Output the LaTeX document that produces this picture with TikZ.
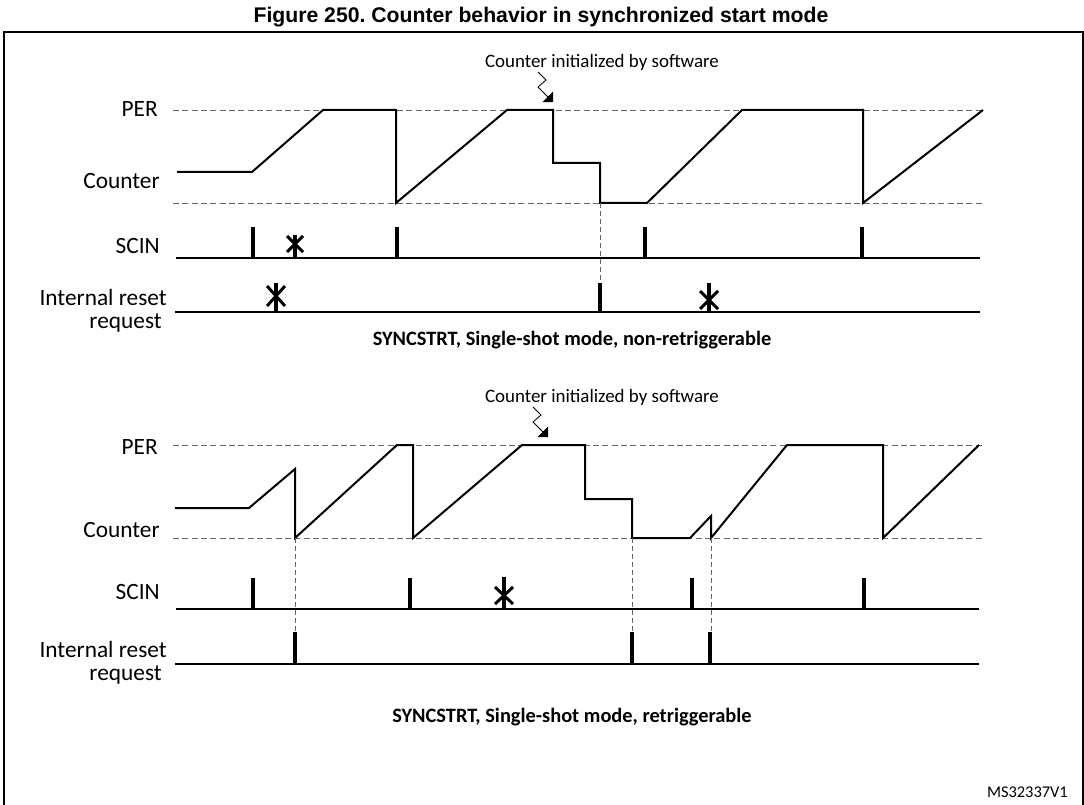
\documentclass[tikz,border=0pt]{standalone}
\usepackage{fontspec}
\setmainfont{Carlito}
\newfontfamily\titlefont{Liberation Sans}
\usetikzlibrary{arrows.meta}
\frenchspacing
\begin{document}
\begin{tikzpicture}[x=0.75pt,y=-0.75pt,
  wave/.style={line width=1.5pt, line join=miter},
  guide/.style={draw=black!60, dash pattern=on 4.5pt off 2.5pt, line width=0.7pt},
  vguide/.style={draw=black!60, dash pattern=on 4pt off 2pt, line width=0.6pt},
  baseln/.style={line width=1.5pt},
  pulse/.style={line width=2.4pt},
  xarm/.style={line width=2.2pt},
  zig/.style={line width=0.6pt, -{Triangle[length=5.5pt,width=11pt]}},
  lbl/.style={font=\fontsize{17.5}{20}\selectfont, anchor=east, inner sep=0pt},
  ann/.style={font=\fontsize{14.2}{16}\selectfont, inner sep=0pt},
  sub/.style={font=\bfseries\fontsize{15.3}{18}\selectfont, inner sep=0pt}]
\useasboundingbox (0,0) rectangle (1084,805);
% frame and title
\draw[line width=1.1pt] (4,806) -- (4,32) -- (1083,32) -- (1083,806);
\node[font=\titlefont\bfseries\fontsize{15.9}{18}\selectfont, inner sep=0pt] (title) at (541,17) {Figure 250. Counter behavior in synchronized start mode};

% ================= top panel =================
\node[lbl] (per1) at (158,109) {PER};
\node[lbl] (cnt1) at (160,181) {Counter};
\node[lbl] (scin1) at (160,246) {SCIN};
\node[lbl] (irr1) at (167,297) {Internal reset};
\node[lbl] (req1) at (162,323) {request};

\draw[guide] (173,110) -- (983,110);
\draw[guide] (173,203) -- (983,203);
\draw[wave] (177,172) -- (252,172) -- (323,110) -- (396,110) -- (396,203) -- (507,110) -- (553,110) -- (553,163) -- (600,163) -- (600,203) -- (647,203) -- (742,110) -- (863,110) -- (863,203) -- (983,110);
\draw[vguide] (600,203) -- (600,283);

\draw[baseln] (176,258) -- (980,258);
\foreach \x in {253,397,645,862} \draw[pulse] (\x,227) -- (\x,258);
\draw[pulse] (295,235) -- (295,258);
\draw[xarm] (287,236) -- (303,252) (303,236) -- (287,252);

\draw[baseln] (175,312) -- (980,312);
\draw[pulse] (600,283) -- (600,312);
\draw[pulse] (276,283) -- (276,312);
\draw[xarm] (267,286) -- (285,306) (285,286) -- (267,306);
\draw[pulse] (709,283) -- (709,312);
\draw[xarm] (700,291) -- (718,309) (718,291) -- (700,309);

\node[ann] (ann1) at (602,62) {Counter initialized by software};
\coordinate (tip1) at (553,102);
\draw[zig] (538,72) -- (546,80) -- (538,87) -- (tip1);

\node[sub] (sub1) at (572,340) {SYNCSTRT, Single-shot mode, non-retriggerable};

% ================= bottom panel =================
\node[lbl] (per2) at (158,447) {PER};
\node[lbl] (cnt2) at (160,530) {Counter};
\node[lbl] (scin2) at (160,592) {SCIN};
\node[lbl] (irr2) at (167,649) {Internal reset};
\node[lbl] (req2) at (162,675) {request};

\draw[guide] (173,445) -- (983,445);
\draw[guide] (173,538) -- (983,538);
\draw[wave] (175,508) -- (249,508) -- (295,469) -- (295,538) -- (397,445) -- (413,445) -- (413,538) -- (522,445) -- (585,445) -- (585,499) -- (632,499) -- (632,538) -- (690,538) -- (711,516) -- (711,538) -- (787,445) -- (883,445) -- (883,538) -- (979,445);
\foreach \x in {295,632,711} \draw[vguide] (\x,538) -- (\x,632);

\draw[baseln] (176,609) -- (979,609);
\foreach \x in {253,410,692,864} \draw[pulse] (\x,578) -- (\x,609);
\draw[pulse] (504,577) -- (504,609);
\draw[xarm] (495,587) -- (513,604) (513,587) -- (495,604);

\draw[baseln] (175,664) -- (979,664);
\foreach \x in {295,632,710} \draw[pulse] (\x,632) -- (\x,664);

\node[ann] (ann2) at (602,397) {Counter initialized by software};
\coordinate (tip2) at (548,437);
\draw[zig] (533,407) -- (541,415) -- (533,422) -- (tip2);

\node[sub] (sub2) at (572,717) {SYNCSTRT, Single-shot mode, retriggerable};

\node[font=\fontsize{12.3}{14}\selectfont, anchor=east, inner sep=0pt] (ms) at (1068,792) {MS32337V1};
\end{tikzpicture}
\end{document}
